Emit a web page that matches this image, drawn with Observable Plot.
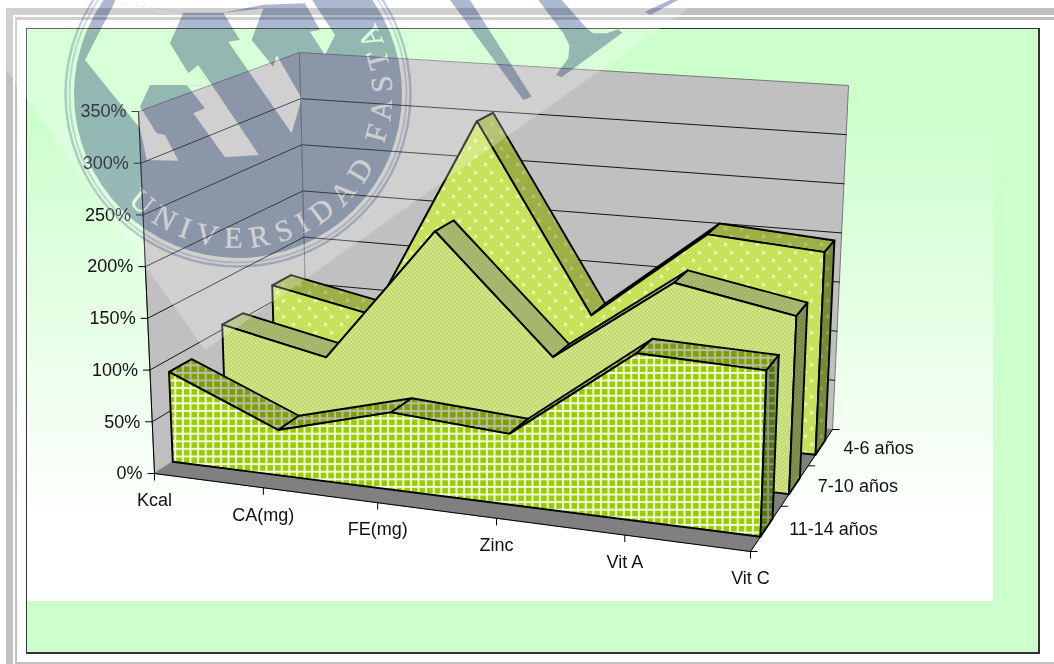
<!DOCTYPE html>
<html lang="es">
<head>
<meta charset="utf-8">
<title>Adecuación de nutrientes por grupo de edad</title>
<script src="https://cdn.jsdelivr.net/npm/d3@7"></script>
<script src="https://cdn.jsdelivr.net/npm/@observablehq/plot@0.6"></script>
<style>
  html, body { margin: 0; background: #fff; }
  #page { position: relative; width: 1054px; height: 664px; overflow: hidden; font-family: "Liberation Sans", Arial, sans-serif; }
  #page > div, #page > svg { position: absolute; }
  .bar { background: #c0c0c0; }
  #panel { left: 26px; top: 28px; width: 1011px; height: 623px; background: #ccffcc; border: 1.5px solid #333; border-right-width: 2px; border-bottom-width: 2px; }
  #wash { left: 27px; top: 29px; width: 966px; height: 572px; background: linear-gradient(#ccffcc 14%, #ffffff 86%); }
  #chart { left: 0; top: 0; }
  #chart svg { background: transparent; display: block; }
  #veil { left: 0; top: 0; }
  #seal { left: 0; top: 0; mix-blend-mode: multiply; filter: blur(0.6px); }
</style>
</head>
<body>
<svg width="0" height="0" style="position:absolute">
  <defs>
    <pattern id="gridFront" width="7.6" height="7.6" patternUnits="userSpaceOnUse">
      <rect width="7.6" height="7.6" fill="#f2fadc"/><rect x="1" y="1" width="5.6" height="5.6" fill="#99cc00"/>
    </pattern>
    <pattern id="gridTop" width="7.6" height="7.6" patternUnits="userSpaceOnUse">
      <rect width="7.6" height="7.6" fill="#b9bfa6"/><rect x="1" y="1" width="5.6" height="5.6" fill="#7f9f00"/>
    </pattern>
    <pattern id="gridSide" width="7.6" height="7.6" patternUnits="userSpaceOnUse">
      <rect width="7.6" height="7.6" fill="#8d9a84"/><rect x="1" y="1" width="5.6" height="5.6" fill="#557700"/>
    </pattern>
    <pattern id="checkFront" width="4" height="4" patternUnits="userSpaceOnUse">
      <rect width="4" height="4" fill="#b6d24e"/><rect width="2" height="2" fill="#dcecaa"/><rect x="2" y="2" width="2" height="2" fill="#dcecaa"/>
    </pattern>
    <pattern id="checkTop" width="4" height="4" patternUnits="userSpaceOnUse">
      <rect width="4" height="4" fill="#9aae5c"/><rect width="2" height="2" fill="#afc07e"/><rect x="2" y="2" width="2" height="2" fill="#afc07e"/>
    </pattern>
    <pattern id="checkSide" width="4" height="4" patternUnits="userSpaceOnUse">
      <rect width="4" height="4" fill="#6f8238"/><rect width="2" height="2" fill="#8b9a60"/><rect x="2" y="2" width="2" height="2" fill="#8b9a60"/>
    </pattern>
    <pattern id="dotFront" width="16" height="16" patternUnits="userSpaceOnUse">
      <rect width="16" height="16" fill="#bcdc40"/>
      <path d="M0 0h2v2h-2zM4 0h2v2h-2zM8 0h2v2h-2zM12 0h2v2h-2zM2 2h2v2h-2zM6 2h2v2h-2zM10 2h2v2h-2zM14 2h2v2h-2zM0 4h2v2h-2zM4 4h2v2h-2zM8 4h2v2h-2zM12 4h2v2h-2zM2 6h2v2h-2zM6 6h2v2h-2zM10 6h2v2h-2zM14 6h2v2h-2zM0 8h2v2h-2zM4 8h2v2h-2zM8 8h2v2h-2zM12 8h2v2h-2zM2 10h2v2h-2zM6 10h2v2h-2zM10 10h2v2h-2zM14 10h2v2h-2zM0 12h2v2h-2zM4 12h2v2h-2zM8 12h2v2h-2zM12 12h2v2h-2zM2 14h2v2h-2zM6 14h2v2h-2zM10 14h2v2h-2zM14 14h2v2h-2z" fill="#d2e874"/>
      <path d="M3 3.5h4v1h-4zM4.5 2h1v4h-1zM10.5 10h1v4h-1zM9 11.5h4v1h-4z" fill="#f8fce0"/>
    </pattern>
    <pattern id="dotTop" width="16" height="16" patternUnits="userSpaceOnUse">
      <rect width="16" height="16" fill="#9cb045"/>
      <path d="M4.5 2h1v4h-1zM3 3.5h4v1h-4zM10.5 10h1v4h-1zM9 11.5h4v1h-4z" fill="#c4d08c"/>
    </pattern>
    <pattern id="dotSide" width="16" height="16" patternUnits="userSpaceOnUse">
      <rect width="16" height="16" fill="#778a34"/>
      <path d="M4.5 2h1v4h-1zM3 3.5h4v1h-4zM10.5 10h1v4h-1zM9 11.5h4v1h-4z" fill="#a0ad70"/>
    </pattern>
    <mask id="sealCut" maskUnits="userSpaceOnUse" x="0" y="-100" width="1054" height="500">
      <rect x="0" y="-100" width="1054" height="500" fill="#fff"/>
      <g transform="translate(60 0) scale(0.3333)" fill="#000">
        <path d="M75 180L165 5L370 38L330 130L385 220L415 195L445 258L375 255L270 255L240 320L290 400L315 405L355 482L260 480L240 385Z"/>
        <path d="M415 195L597 465L495 472L400 340L435 325L380 255L445 258Z"/>
        <path d="M490 38L610 25L575 120L640 200L650 165L725 295L695 400L505 125L540 120Z"/>
        <path d="M735 10L780 90L750 95L795 165L825 105L750 -10Z"/>
        <path d="M165 5L370 38L490 38L610 14L735 10L750 -10V-300H110Z"/>
      </g>
      <path id="sealArc" d="M128 201.7A154 154 0 0 0 377 27.7" fill="none"/>
      <text font-family="Liberation Serif" font-size="30" fill="#000" stroke="#000" stroke-width="0.5" letter-spacing="8.4"><textPath href="#sealArc">UNIVERSIDAD FASTA</textPath></text>
    </mask>
  </defs>
</svg>

<div id="page">
  <div class="bar" style="left:6px;top:8px;width:1048px;height:7px"></div>
  <div class="bar" style="left:15px;top:17px;width:1039px;height:3px"></div>
  <div class="bar" style="left:6px;top:8px;width:7px;height:656px"></div>
  <div class="bar" style="left:15px;top:17px;width:2px;height:647px"></div>
  <div class="bar" style="left:15px;top:662px;width:1039px;height:2px"></div>
  <div id="panel"></div>
  <div id="wash"></div>
  <div id="chart"></div>
  <svg id="veil" width="1054" height="664"><path d="M0 0V61L205 350L700 0Z" fill="#fff" fill-opacity="0.25"/></svg>
  <svg id="seal" width="1054" height="664">
    <g fill="#acb8d0">
      <circle cx="238" cy="94" r="164" mask="url(#sealCut)"/>
      <circle cx="238" cy="94" r="172.5" fill="none" stroke="#c4cee0" stroke-width="2.5"/>
      <circle cx="238" cy="94" r="168.5" fill="none" stroke="#d4dbe8" stroke-width="2"/>
      <g transform="translate(430 0) scale(0.3333)">
        <path d="M60 0H120L305 290L280 300Z"/>
        <path d="M325 0H395L470 85L490 100L530 100L565 88L577 98L395 232L378 225L415 175L418 135L400 100Z"/>
        <path d="M645 35L720 0H745L660 45Z"/>
      </g>
    </g>
  </svg>
</div>

<script>
// Nutrient adequacy by age group, as a percentage of the recommended intake.
const categories = ["Kcal", "CA(mg)", "FE(mg)", "Zinc", "Vit A", "Vit C"];
const ageGroups = ["11-14 años", "7-10 años", "4-6 años"];
const values11to14 = [88, 44, 74, 67, 156, 153];
const values7to10 = [105, 83, 220, 107, 191, 170];
const values4to6 = [117, 96, 306, 117, 209, 201];
const percentTicks = [0, 50, 100, 150, 200, 250, 300, 350];

const W = 1054, H = 664;
const maxPercent = 350;
const lastCat = categories.length - 1;

// Perspective of the 3-D box: floor and ceiling are each mapped from the unit square.
function quadMap([p0, p1, p2, p3]) {
  const dx1 = p1[0] - p2[0], dx2 = p3[0] - p2[0], sx = p0[0] - p1[0] + p2[0] - p3[0];
  const dy1 = p1[1] - p2[1], dy2 = p3[1] - p2[1], sy = p0[1] - p1[1] + p2[1] - p3[1];
  const den = dx1 * dy2 - dx2 * dy1;
  const g = (sx * dy2 - dx2 * sy) / den, h = (dx1 * sy - sx * dy1) / den;
  const a = p1[0] - p0[0] + g * p1[0], b = p3[0] - p0[0] + h * p3[0];
  const d = p1[1] - p0[1] + g * p1[1], e = p3[1] - p0[1] + h * p3[1];
  return (u, v) => {
    const w = g * u + h * v + 1;
    return [(a * u + b * v + p0[0]) / w, (d * u + e * v + p0[1]) / w];
  };
}
const floorMap = quadMap([[154, 473], [750, 551], [832, 429], [307, 375]]);
const ceilingMap = quadMap([[138, 111], [763, 166], [848, 85], [299, 52]]);

// Slots of the category axis along the box width, and of the slabs along its depth.
const catSlots = [0, 0.204, 0.407, 0.607, 0.811, 1];
const catDrift = [0, 0, 0.011, 0.01, 0.004, 0];
const slabFront = [0.105, 0.43, 0.765];
const slabDepth = 0.133;

// category slot, percent, depth (0 = front, 1 = back) to a screen position
function project(cat, pct, depth) {
  const u = catSlots[cat] + catDrift[cat] * Math.min(1, 2 * depth);
  const [x0, y0] = floorMap(u, depth);
  const [x1, y1] = ceilingMap(u, depth);
  const t = pct / maxPercent;
  return [x0 + (x1 - x0) * t, y0 + (y1 - y0) * t];
}

// One polygon per row group: closed outline through the given box coordinates.
const polygon = (id, corners) => corners.map(([c, p, d]) => {
  const [x, y] = project(c, p, d);
  return { id, x, y };
});
const polygonMark = (rows, fill, stroke, strokeWidth) => Plot.line(rows, {
  x: "x", y: "y", z: "id", curve: "linear-closed", fill, stroke, strokeWidth, strokeLinejoin: "round"
});

const leftWall = polygon("left", [[0, 0, 0], [0, maxPercent, 0], [0, maxPercent, 1], [0, 0, 1]]);
const backWall = polygon("back", [[0, 0, 1], [0, maxPercent, 1], [lastCat, maxPercent, 1], [lastCat, 0, 1]]);
const floorFace = polygon("floor", [[0, 0, 0], [lastCat, 0, 0], [lastCat, 0, 1], [0, 0, 1]]);

const gridRows = percentTicks.slice(1, -1).flatMap(p =>
  [[0, p, 0], [0, p, 1], [lastCat, p, 1]].map(([c, q, d]) => {
    const [x, y] = project(c, q, d);
    return { p, x, y };
  }));

// Each age group is a slab: top strips, then the front face, then the end cap.
function slabMarks(values, index, kind) {
  const front = slabFront[index], back = front + slabDepth;
  const tops = values.slice(0, -1).flatMap((v, i) =>
    polygon(`t${i}`, [[i, v, front], [i + 1, values[i + 1], front], [i + 1, values[i + 1], back], [i, v, back]]));
  const face = polygon("front", [[0, 0, front], ...values.map((v, i) => [i, v, front]), [lastCat, 0, front]]);
  const cap = polygon("cap", [[lastCat, values[lastCat], front], [lastCat, values[lastCat], back], [lastCat, 0, back], [lastCat, 0, front]]);
  return [
    polygonMark(tops, `url(#${kind}Top)`, "#000", 1.9),
    polygonMark(face, `url(#${kind}Front)`, "#000", 1.9),
    polygonMark(cap, `url(#${kind}Side)`, "#000", 1.9)
  ];
}

const at = (c, p, d) => { const [x, y] = project(c, p, d); return { x, y }; };
const valueAxis = percentTicks.map(p => ({ label: `${p}%`, ...at(0, p, 0) }));
const catAxis = categories.map((label, i) => ({ label, ...at(i, 0, 0) }));
const depthAxis = [1, 2, 3].map(n => at(lastCat, 0, n / 3));
const depthLabels = ageGroups.map((label, i) => ({ label, ...at(lastCat, 0, (i + 0.5) / 3) }));
const edge = (a, b) => [{ ...at(...a), ...{ x2: at(...b).x, y2: at(...b).y } }];

const textStyle = { text: "label", fontSize: 18, fill: "#111" };

const chart = Plot.plot({
  width: W, height: H, margin: 0,
  style: { fontFamily: "'Liberation Sans', Arial, sans-serif", background: "transparent" },
  x: { type: "linear", domain: [0, W], range: [0, W], axis: null },
  y: { type: "linear", domain: [0, H], range: [0, H], axis: null },
  marks: [
    polygonMark(leftWall, "#c0c0c0", "#777", 1),
    polygonMark(backWall, "#c0c0c0", "#777", 1),
    polygonMark(floorFace, "#808080", "#808080", 1),
    Plot.line(gridRows, { x: "x", y: "y", z: "p", stroke: "#000", strokeWidth: 0.9 }),
    ...slabMarks(values4to6, 2, "dot"),
    ...slabMarks(values7to10, 1, "check"),
    ...slabMarks(values11to14, 0, "grid"),
    // box edges that carry the axes
    Plot.link(edge([0, 0, 0], [0, maxPercent, 0]), { x1: "x", y1: "y", x2: "x2", y2: "y2", stroke: "#000", strokeWidth: 1 }),
    Plot.link(edge([0, 0, 0], [lastCat, 0, 0]), { x1: "x", y1: "y", x2: "x2", y2: "y2", stroke: "#000", strokeWidth: 1 }),
    Plot.link(edge([lastCat, 0, 0], [lastCat, 0, 1]), { x1: "x", y1: "y", x2: "x2", y2: "y2", stroke: "#000", strokeWidth: 1 }),
    // ticks
    Plot.link(valueAxis, { x1: d => d.x - 7, y1: "y", x2: "x", y2: "y", stroke: "#000", strokeWidth: 1 }),
    Plot.link(catAxis, { x1: "x", y1: "y", x2: "x", y2: d => d.y + 7, stroke: "#000", strokeWidth: 1 }),
    Plot.link([at(lastCat, 0, 0), ...depthAxis], { x1: "x", y1: "y", x2: d => d.x + 7, y2: "y", stroke: "#000", strokeWidth: 1 }),
    // labels
    Plot.text(valueAxis, { x: "x", y: "y", dx: -12, textAnchor: "end", ...textStyle }),
    Plot.text(catAxis, { x: "x", y: "y", dy: 27, ...textStyle }),
    Plot.text(depthLabels, { x: "x", y: "y", dx: 23, dy: 1, textAnchor: "start", ...textStyle })
  ]
});
document.getElementById("chart").appendChild(chart);
</script>
</body>
</html>
